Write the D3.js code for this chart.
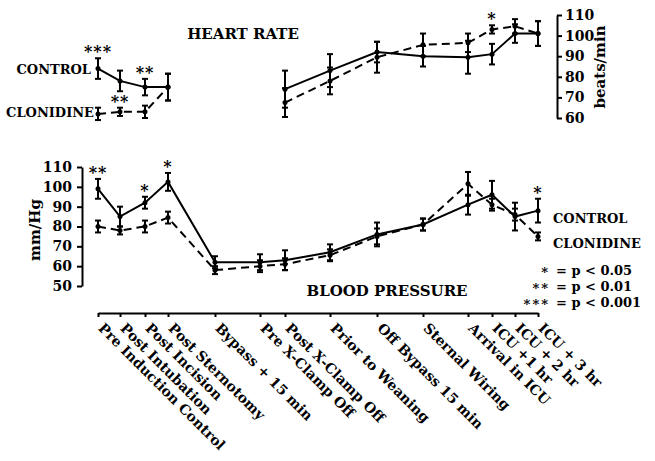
<!DOCTYPE html>
<html>
<head>
<meta charset="utf-8">
<script src="https://cdn.jsdelivr.net/npm/d3@7"></script>
<style>
body { margin: 0; background: #fff; }
text { font-family: "DejaVu Serif", serif; font-weight: bold; fill: #000; }
</style>
</head>
<body>
<script>
// time points (relative elapsed position on the time axis)
var timeLabels = ["Pre Induction Control", "Post Intubation", "Post Incision", "Post Sternotomy",
    "Bypass + 15 min", "Pre X-Clamp Off", "Post X-Clamp Off", "Prior to Weaning",
    "Off Bypass 15 min", "Sternal Wiring", "Arrival in ICU", "ICU +1 hr", "ICU + 2 hr", "ICU + 3 hr"]
var timePos = [0, 22, 47, 70, 117, 162, 187, 232, 279, 325, 370, 394, 417, 440]

// heart rate, beats/min (no values on bypass)
var hrControl = [84, 78, 75, 75, null, null, 74, 83, 92, 90, 89.5, 91, 101, 101]
var hrControlErr = [5, 5, 4, 6.5, null, null, 9, 8, 5, 5, 8, 5, 4.5, 6]
var hrClonidine = [62, 63, 63, 75, null, null, 67.5, 78, 89.5, 95.5, 96.5, 103, 104.5, 101]
var hrClonidineErr = [3, 2, 3, 6.5, null, null, 7, 6.5, 7.5, 5.5, 4.5, 2, 3.5, 6]
var hrSigControl = ["***", "", "**", "", "", "", "", "", "", "", "", "", "", ""]
var hrSigClonidine = ["", "**", "", "", "", "", "", "", "", "", "", "*", "", ""]
var hrTicks = [60, 70, 80, 90, 100, 110]

// blood pressure, mm/Hg
var bpControl = [99, 85, 92, 102.5, 62, 62, 63, 67, 76, 81, 91, 96, 85, 88]
var bpControlErr = [5, 5, 3, 4.5, 3, 4, 5, 4, 6, 3, 5, 7, 7, 6]
var bpClonidine = [80, 78, 80, 84.5, 58, 60, 61, 65.5, 75, 81, 101.5, 91, 86, 75]
var bpClonidineErr = [3, 2, 3, 3, 2, 3, 3, 3, 4, 3, 6, 3, 3, 2]
var bpSigControl = ["**", "", "*", "*", "", "", "", "", "", "", "", "", "", "*"]
var bpTicks = [50, 60, 70, 80, 90, 100, 110]

var sigLegend = ["*", "**", "***"]
var sigText = ["= p < 0.05", "= p < 0.01", "= p < 0.001"]

var w = 655, h = 461
var svg = d3.select("body").append("svg").attr("width", w).attr("height", h)

var x = d3.scaleLinear().domain([0, 440]).range([98, 538])
var yHr = d3.scaleLinear().domain([60, 110]).range([118, 15])
var yBp = d3.scaleLinear().domain([50, 110]).range([286, 167])

function drawSeries(vals, errs, y, dashed){
    var pts = vals.map(function(v, i){
        return {t: timePos[i], v: v, e: errs[i]}
    })
    var line = d3.line().defined(function(d){ return d.v != null })
        .x(function(d){ return x(d.t) }).y(function(d){ return y(d.v) })
    svg.append("path").datum(pts).attr("d", line)
        .attr("fill", "none").attr("stroke", "#000").attr("stroke-width", 2)
        .attr("stroke-dasharray", dashed ? "8,5" : null)

    var ok = pts.filter(function(d){ return d.v != null })
    var g = svg.append("g").attr("stroke", "#000").attr("stroke-width", 2)
    g.selectAll(".bar").data(ok).enter().append("line")
        .attr("x1", function(d){ return x(d.t) }).attr("x2", function(d){ return x(d.t) })
        .attr("y1", function(d){ return y(d.v - d.e) }).attr("y2", function(d){ return y(d.v + d.e) })
    // caps
    g.selectAll(".capTop").data(ok).enter().append("line")
        .attr("x1", function(d){ return x(d.t) - 3 }).attr("x2", function(d){ return x(d.t) + 3 })
        .attr("y1", function(d){ return y(d.v + d.e) }).attr("y2", function(d){ return y(d.v + d.e) })
    g.selectAll(".capBot").data(ok).enter().append("line")
        .attr("x1", function(d){ return x(d.t) - 3 }).attr("x2", function(d){ return x(d.t) + 3 })
        .attr("y1", function(d){ return y(d.v - d.e) }).attr("y2", function(d){ return y(d.v - d.e) })
    svg.append("g").selectAll("circle").data(ok).enter().append("circle")
        .attr("cx", function(d){ return x(d.t) }).attr("cy", function(d){ return y(d.v) })
        .attr("r", 2.5).attr("fill", "#000")
}

function drawStars(sig, vals, errs, y){
    sig.forEach(function(s, i){
        if(!s) return
        svg.append("text").attr("x", x(timePos[i])).attr("y", y(vals[i] + errs[i]) - 10 + 9)
            .attr("text-anchor", "middle").attr("font-size", "16px").attr("letter-spacing", "1px")
            .text(s)
    })
}

// heart rate panel
drawSeries(hrControl, hrControlErr, yHr, false)
drawSeries(hrClonidine, hrClonidineErr, yHr, true)
drawStars(hrSigControl, hrControl, hrControlErr, yHr)
drawStars(hrSigClonidine, hrClonidine, hrClonidineErr, yHr)

var hrAxis = svg.append("g").attr("transform", "translate(557,0)")
    .call(d3.axisRight(yHr).tickValues(hrTicks).tickSize(5).tickSizeOuter(0).tickPadding(3))
hrAxis.select(".domain").attr("stroke-width", 2)
hrAxis.selectAll(".tick line").attr("stroke-width", 2)
hrAxis.selectAll("text").attr("font-size", "14px").attr("font-family", null)

svg.append("text").attr("x", 243).attr("y", 39).attr("text-anchor", "middle")
    .attr("font-size", "15px").text("HEART RATE")
svg.append("text").attr("x", 91).attr("y", 74).attr("text-anchor", "end")
    .attr("font-size", "13px").text("CONTROL")
svg.append("text").attr("x", 94).attr("y", 117).attr("text-anchor", "end")
    .attr("font-size", "13px").text("CLONIDINE")
svg.append("text").attr("transform", "translate(605,67) rotate(-90)").attr("text-anchor", "middle")
    .attr("font-size", "15px").text("beats/min")

// blood pressure panel
drawSeries(bpControl, bpControlErr, yBp, false)
drawSeries(bpClonidine, bpClonidineErr, yBp, true)
drawStars(bpSigControl, bpControl, bpControlErr, yBp)

var bpAxis = svg.append("g").attr("transform", "translate(82,0)")
    .call(d3.axisLeft(yBp).tickValues(bpTicks).tickSize(5).tickSizeOuter(0).tickPadding(5))
bpAxis.select(".domain").attr("stroke-width", 2)
bpAxis.selectAll(".tick line").attr("stroke-width", 2)
bpAxis.selectAll("text").attr("font-size", "14px").attr("font-family", null)

svg.append("text").attr("transform", "translate(40,230) rotate(-90)").attr("text-anchor", "middle")
    .attr("font-size", "15px").text("mm/Hg")
svg.append("text").attr("x", 387).attr("y", 296).attr("text-anchor", "middle")
    .attr("font-size", "15px").text("BLOOD PRESSURE")

// x axis with time labels
var xAxis = svg.append("g").attr("transform", "translate(0,313)")
    .call(d3.axisBottom(x).tickValues(timePos).tickSize(4).tickSizeOuter(0)
        .tickFormat(function(d, i){ return timeLabels[i] }))
xAxis.select(".domain").attr("stroke-width", 2)
xAxis.selectAll(".tick line").attr("stroke-width", 2)
xAxis.selectAll("text").attr("font-size", "14px").attr("font-family", null)
    .attr("x", 0).attr("y", 0).attr("dy", 0).attr("text-anchor", "start")
    .attr("transform", "translate(-1,16) rotate(45)")

// legend
svg.append("text").attr("x", 553).attr("y", 223).attr("font-size", "13px").text("CONTROL")
svg.append("text").attr("x", 553).attr("y", 248).attr("font-size", "13px").text("CLONIDINE")
sigLegend.forEach(function(s, i){
    var cy = 270 + i * 16
    svg.append("text").attr("x", 550).attr("y", cy + 7).attr("text-anchor", "end")
        .attr("font-size", "13px").attr("letter-spacing", "2px").text(s)
    svg.append("text").attr("x", 556).attr("y", cy + 5).attr("font-size", "13px").text(sigText[i])
})
</script>
</body>
</html>
